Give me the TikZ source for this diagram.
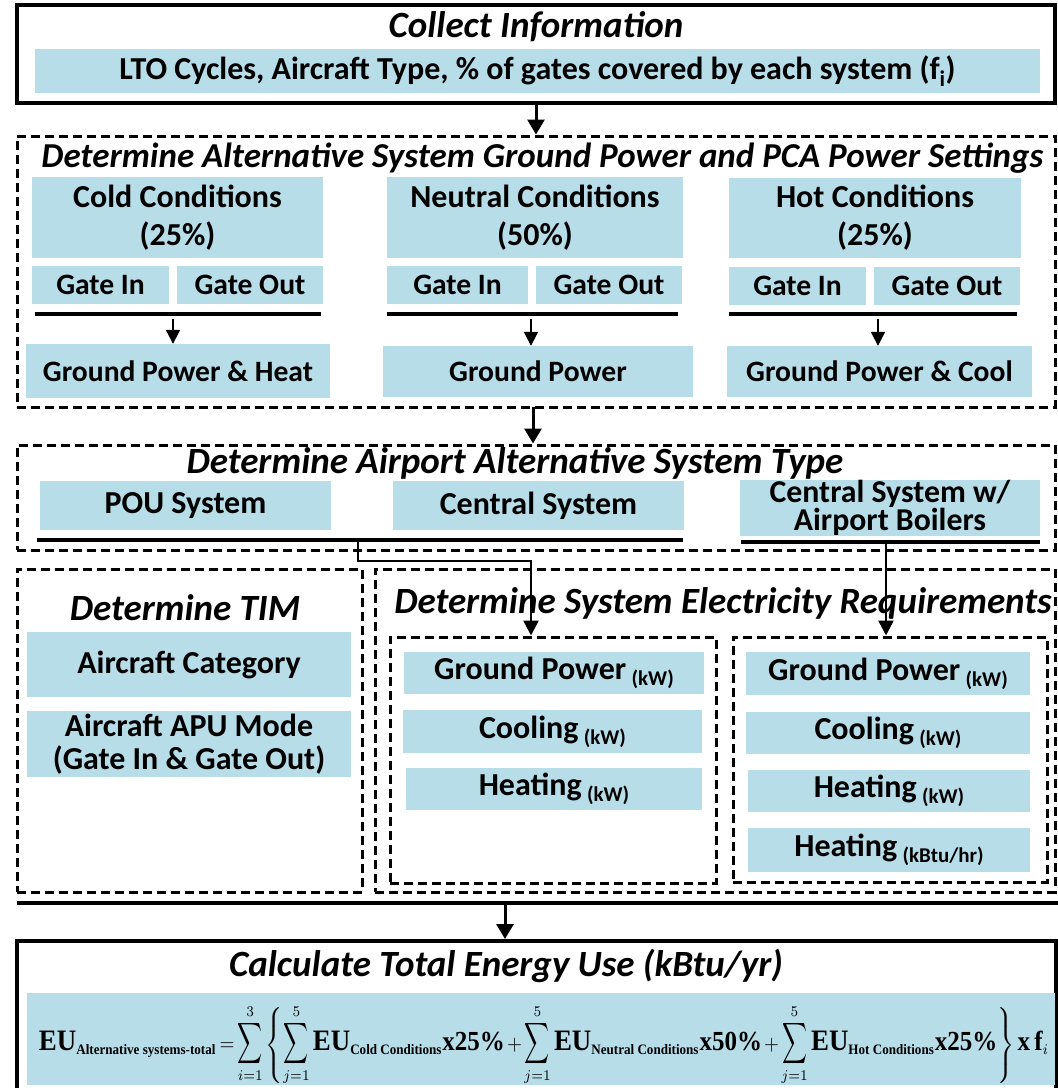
\documentclass[tikz,border=0pt]{standalone}
\usepackage{fontspec}
\usepackage{amsmath}
\usepackage{graphicx}
\setmainfont{Carlito}
\newfontfamily\eqfont{Liberation Serif}
\usetikzlibrary{arrows.meta}

\definecolor{panel}{HTML}{B7DDE8}

\newcommand\ttlfnt{\fontsize{37}{40}\selectfont\bfseries\itshape}
\newcommand\lblfnt{\fontsize{32}{38}\selectfont\bfseries}
\newcommand\smlfnt{\fontsize{29.6}{34}\selectfont\bfseries}
\newcommand\unitfnt{\fontsize{21}{22}\selectfont\bfseries}
\newcommand\unit[1]{\,\raisebox{-6pt}{\unitfnt(#1)}}

% pieces of the energy-use formula (set small, then scaled as a whole)
\newcommand\eqEU{\text{\fontsize{14}{16}\selectfont\eqfont\bfseries EU}}
\newcommand\eqsub[1]{\text{\fontsize{6.8}{7}\selectfont\eqfont\bfseries #1}}
\newcommand\eqx[1]{\text{\fontsize{13}{15}\selectfont\eqfont\bfseries #1}}
\newcommand\nsum[2]{\mathop{\hbox{\scalebox{0.9}[1.35]{$\displaystyle\sum$}}}\limits_{#1}^{#2}}

\tikzset{
  bluebox/.style={fill=panel, draw=none, inner sep=0pt, align=center, font=\lblfnt},
  frame/.style={draw, line width=4pt, inner sep=0pt},
  dashframe/.style={draw, line width=3pt, dash pattern=on 9pt off 5pt, inner sep=0pt},
  ttl/.style={font=\ttlfnt, inner sep=0pt},
  bar/.style={line width=3.5pt},
  flow/.style={line width=3pt, -{Triangle[width=17pt,length=15pt]}},
  link/.style={line width=2.5pt, -{Triangle[width=15pt,length=15pt]}},
  stub/.style={line width=2pt, -{Triangle[width=14pt,length=14pt]}},
}

\begin{document}
\begin{tikzpicture}[x=1pt,y=-1pt]
\useasboundingbox (0,0) rectangle (1058,1088);

% ---------- Collect information ----------
\node[frame, minimum width=1038pt, minimum height=98pt] (collect) at (536,54) {};
\node[ttl] (collectT) at (536,27) {Collect Information};
\node[bluebox, minimum width=1005pt, minimum height=44pt]
  (inputs) at (537.5,71) {LTO Cycles, Aircraft Type, \% of gates covered by each system (f\textsubscript{i})};

% ---------- Ground power and PCA settings ----------
\node[dashframe, minimum width=1038pt, minimum height=271pt] (settings) at (536,271.5) {};
\draw[flow] (collect.south) -- (settings.north);
\node[ttl, font=\fontsize{35}{40}\selectfont\bfseries\itshape] (settingsT) at (542.5,158)
  {Determine Alternative System Ground Power and PCA Power Settings};

% cold
\node[bluebox, minimum width=291pt, minimum height=81pt] (cold) at (177.5,217.5) {Cold Conditions\\(25\%)};
\node[bluebox, font=\smlfnt, minimum width=137pt, minimum height=38pt] (coldIn) at (100.5,285) {Gate In};
\node[bluebox, font=\smlfnt, minimum width=146pt, minimum height=38pt] (coldOut) at (250,285) {Gate Out};
\coordinate (coldBarL) at (35,314);
\coordinate (coldBarR) at (321,314);
\draw[bar] (coldBarL) -- (coldBarR);
\node[bluebox, font=\smlfnt, minimum width=304pt, minimum height=54pt] (coldGP) at (178,371) {Ground Power \& Heat};
\coordinate (coldTap) at (173,319);
\draw[stub] (coldTap) -- (coldGP.north -| coldTap);

% neutral
\node[bluebox, minimum width=296pt, minimum height=81pt] (neutral) at (535,217.5) {Neutral Conditions\\(50\%)};
\node[bluebox, font=\smlfnt, minimum width=141pt, minimum height=38pt] (neutralIn) at (457.5,285) {Gate In};
\node[bluebox, font=\smlfnt, minimum width=146pt, minimum height=38pt] (neutralOut) at (609,285) {Gate Out};
\coordinate (neutralBarL) at (387,314);
\coordinate (neutralBarR) at (678,314);
\draw[bar] (neutralBarL) -- (neutralBarR);
\node[bluebox, font=\smlfnt, minimum width=310pt, minimum height=51pt] (neutralGP) at (538,371.5) {Ground Power};
\coordinate (neutralTap) at (531,319);
\draw[stub] (neutralTap) -- (neutralGP.north -| neutralTap);

% hot
\node[bluebox, minimum width=292pt, minimum height=80pt] (hot) at (875,218) {Hot Conditions\\(25\%)};
\node[bluebox, font=\smlfnt, minimum width=137pt, minimum height=38pt] (hotIn) at (797.5,286) {Gate In};
\node[bluebox, font=\smlfnt, minimum width=146pt, minimum height=38pt] (hotOut) at (947,286) {Gate Out};
\coordinate (hotBarL) at (729,314);
\coordinate (hotBarR) at (1017,314);
\draw[bar] (hotBarL) -- (hotBarR);
\node[bluebox, font=\smlfnt, minimum width=305pt, minimum height=51pt] (hotGP) at (879.5,371.5) {Ground Power \& Cool};
\coordinate (hotTap) at (878,319);
\draw[stub] (hotTap) -- (hotGP.north -| hotTap);

% ---------- System type ----------
\node[dashframe, minimum width=1038pt, minimum height=105pt] (systype) at (536,497.5) {};
\coordinate (settingsOut) at (533,407);
\draw[flow] (settingsOut) -- (systype.north -| settingsOut);
\node[ttl] (systypeT) at (515,463) {Determine Airport Alternative System Type};
\node[bluebox, minimum width=291pt, minimum height=49pt] (pou) at (185.5,505.5) {POU System};
\node[bluebox, minimum width=291pt, minimum height=49pt] (central) at (538.5,505.5) {Central System};
\node[bluebox, minimum width=300pt, minimum height=50pt, font=\fontsize{31.8}{27}\selectfont\bfseries]
  (boilers) at (890,508) {Central System w/\\Airport Boilers};
\coordinate (typeBarL) at (37,540);
\coordinate (typeBarR) at (683,540);
\draw[bar] (typeBarL) -- (typeBarR);
\coordinate (boilBarL) at (741,542);
\coordinate (boilBarR) at (1040,542);
\draw[bar] (boilBarL) -- (boilBarR);

% ---------- TIM ----------
\node[dashframe, minimum width=345pt, minimum height=323pt] (tim) at (189.5,730.5) {};
\node[ttl] (timT) at (185,608) {Determine TIM};
\node[bluebox, minimum width=324pt, minimum height=65pt] (category) at (189,664.5) {Aircraft Category};
\node[bluebox, minimum width=324pt, minimum height=66pt, font=\fontsize{32}{33}\selectfont\bfseries]
  (apu) at (189,744) {Aircraft APU Mode\\(Gate In \& Gate Out)};

% ---------- Electricity requirements ----------
\node[dashframe, minimum width=680pt, minimum height=323pt] (elec) at (715,730.5) {};
\node[ttl] (elecT) at (723,603) {Determine System Electricity Requirements};

\node[dashframe, minimum width=326pt, minimum height=246pt] (reqA) at (553,760) {};
\node[bluebox, minimum width=300pt, minimum height=42pt] (aGP) at (554,673) {Ground Power\unit{kW}};
\node[bluebox, minimum width=299pt, minimum height=43pt] (aCool) at (552.5,731.5) {Cooling\unit{kW}};
\node[bluebox, minimum width=296pt, minimum height=42pt] (aHeat) at (554,789) {Heating\unit{kW}};

\node[dashframe, minimum width=314pt, minimum height=245pt] (reqB) at (890,759.5) {};
\node[bluebox, minimum width=284pt, minimum height=43pt] (bGP) at (888,673.5) {Ground Power\unit{kW}};
\node[bluebox, minimum width=284pt, minimum height=42pt] (bCool) at (888,733) {Cooling\unit{kW}};
\node[bluebox, minimum width=282pt, minimum height=42pt] (bHeat) at (889,791) {Heating\unit{kW}};
\node[bluebox, minimum width=282pt, minimum height=44pt] (bHeatB) at (889,850) {Heating\unit{kBtu/hr}};

% connectors from the system types
\coordinate (typeTap) at (358,540);
\coordinate (typeDrop) at (531,561);
\draw[link] (typeTap) |- (typeDrop) -- (reqA.north -| typeDrop);
\coordinate (boilTap) at (886,542);
\draw[link] (boilTap) -- (reqB.north -| boilTap);

% ---------- Total energy ----------
\coordinate (sepL) at (17,903);
\coordinate (sepR) at (1058,903);
\draw[bar] (sepL) -- (sepR);
\coordinate (sepM) at (505,905);

\node[frame, minimum width=1039pt, minimum height=180pt] (energy) at (536.5,1031) {};
\draw[flow] (sepM) -- (energy.north -| sepM);
\node[ttl] (energyT) at (506,966) {Calculate Total Energy Use (kBtu/yr)};
\node[bluebox, minimum width=1028pt, minimum height=92pt] (formula) at (541,1039) {};
\node[inner sep=0pt] (formulaT) at (544,1045) {\resizebox*{1010pt}{80pt}{$\medmuskip=2mu\thickmuskip=3mu\displaystyle
  \eqEU_{\eqsub{Alternative systems-total}}
  = \nsum{i=1}{3}\left\{\nsum{j=1}{5}\eqEU_{\eqsub{Cold Conditions}}\eqx{x25\%}
  + \nsum{j=1}{5}\eqEU_{\eqsub{Neutral Conditions}}\eqx{x50\%}
  + \nsum{j=1}{5}\eqEU_{\eqsub{Hot Conditions}}\eqx{x25\%}\right\}\eqx{x\,f}_{i}$}};
\end{tikzpicture}
\end{document}
